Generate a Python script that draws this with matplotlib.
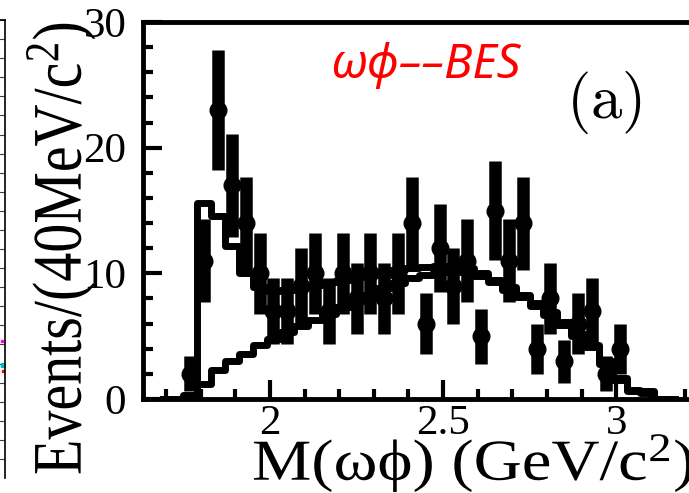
import numpy as np
import matplotlib
matplotlib.use('Agg')
import matplotlib.pyplot as plt
from matplotlib.textpath import TextPath
from matplotlib.patches import PathPatch
from matplotlib.font_manager import FontProperties
from matplotlib.transforms import Affine2D, IdentityTransform

plt.rcParams['mathtext.fontset'] = 'custom'
plt.rcParams['mathtext.rm'] = 'Liberation Serif'
plt.rcParams['mathtext.it'] = 'Liberation Serif:italic'

# data points, 40 MeV bins
mass = [1.77, 1.81, 1.85, 1.89, 1.93, 1.97, 2.01, 2.05, 2.09, 2.13, 2.17,
        2.21, 2.25, 2.29, 2.33, 2.37, 2.41, 2.45, 2.49, 2.53, 2.57, 2.61,
        2.65, 2.69, 2.73, 2.77, 2.81, 2.85, 2.89, 2.93, 2.97, 3.01]
events = [2, 11, 23, 17, 14, 10, 7, 7, 9, 10, 7,
          10, 8, 10, 8, 10, 14, 6, 12, 9, 11, 5,
          15, 11, 14, 4, 8, 3, 6, 7, 2, 4]
errors = [1.4, 3.3, 4.8, 4.1, 3.7, 3.2, 2.6, 2.6, 3.0, 3.2, 2.6,
          3.2, 2.8, 3.2, 2.8, 3.2, 3.7, 2.4, 3.5, 3.0, 3.3, 2.2,
          3.9, 3.3, 3.7, 2.0, 2.8, 1.7, 2.4, 2.6, 1.4, 2.0]

# fit curves (total and background)
curve_m = [1.69, 1.73, 1.77, 1.81, 1.85, 1.89, 1.93, 1.97, 2.01, 2.05, 2.09,
           2.13, 2.17, 2.21, 2.25, 2.29, 2.33, 2.37, 2.41, 2.45, 2.49, 2.53,
           2.57, 2.61, 2.65, 2.69, 2.73, 2.77, 2.81, 2.85, 2.89, 2.93, 2.97,
           3.01, 3.05, 3.09, 3.13, 3.17]
fit_total = [0, 0, 0.3, 15.6, 14.6, 12.2, 10.0, 8.9, 8.6, 8.7, 8.9,
             9.1, 9.3, 9.5, 9.7, 9.9, 10.1, 10.3, 10.4, 10.5, 10.6, 10.6,
             10.4, 10.0, 9.5, 8.9, 8.3, 7.6, 6.9, 6.1, 5.2, 4.3, 3.0,
             1.7, 0.7, 0.6, 0, 0]
fit_bkg = [None, None, 0, 1.2, 2.3, 3.0, 3.6, 4.3, 4.8, 5.3, 5.8,
           6.3, 6.8, 7.3, 7.8, 8.3, 8.8, 9.2, 9.6, 9.9, 10.1, 10.2,
           10.1, 9.8, 9.3, 8.7, 8.1, 7.4, 6.7, 5.9, 5.0, 4.1, 2.8,
           1.5, 0.6, 0.5, 0, None]

W, H = 689, 493
fig = plt.figure(figsize=(6.89, 4.93), dpi=100)


def wide_text(s, x, y, size, sx, rot=0):
    # text drawn as a path so it can be stretched sideways like the scan
    tp = TextPath((0, 0), s, size=size, prop=FontProperties(family='Liberation Serif'))
    tr = Affine2D().rotate_deg(rot).scale(sx, 1).translate(x, H - y)
    fig.add_artist(PathPatch(tr.transform_path(tp), fc='k', lw=0,
                             transform=IdentityTransform()))


# main panel, right edge runs off the picture
x0, x1 = 143, 720
y0, y1 = 399, 22
ax = fig.add_axes([x0 / W, 1 - y0 / H, (x1 - x0) / W, (y0 - y1) / H])
ax.set_xlim(1.633, 3.3)
ax.set_ylim(0, 30)

bkg = np.array([np.nan if v is None else v for v in fit_bkg], dtype=float)
ax.step(curve_m, bkg, where='mid', color='k', lw=5, zorder=2)
ax.step(curve_m, fit_total, where='mid', color='k', lw=5, zorder=2)
ax.errorbar(mass, events, yerr=errors, fmt='o', color='k', ms=12,
            elinewidth=9, capsize=0, zorder=3)

for s in ['left', 'bottom', 'top', 'right']:
    ax.spines[s].set_linewidth(3.5)
ax.set_xticks([2, 2.5, 3])
ax.set_xticklabels(['2', '2.5', '3'])
ax.set_xticks(np.arange(1.7, 3.3, 0.1), minor=True)
ax.set_yticks([0, 10, 20, 30])
ax.set_yticks(np.arange(0, 31, 2), minor=True)
ax.tick_params(which='both', direction='in', top=False, right=False, width=3)
ax.tick_params(which='major', length=14)
ax.tick_params(which='minor', length=7)
ax.tick_params(axis='y', pad=12)
ax.tick_params(axis='x', pad=4)
for lab in ax.get_xticklabels() + ax.get_yticklabels():
    lab.set_fontfamily('Liberation Serif')
    lab.set_fontsize(31)

wide_text(r'M($\mathrm{\omega\phi}$) (GeV/c$^2$)', 252, 480, 58, 1.15)
wide_text(r'Events/(40MeV/c$^2$)', 81, 475, 58, 1.2, rot=90)

fig.text(330 / W, 1 - 78 / H, 'ωϕ––BES', color='red', fontsize=34,
         style='italic', family=['Noto Sans', 'DejaVu Sans'],
         ha='left', va='baseline')
fig.text(604 / W, 1 - 102 / H, r'$\mathrm{(a)}$', fontsize=45,
         math_fontfamily='cm', ha='center', va='center')

# sliver of the neighbouring panel at the left edge
ax2 = fig.add_axes([0, 1 - 478 / H, 5 / W, (478 - 20) / H])
ax2.set_xlim(0, 1)
ax2.set_ylim(0, 24)
ax2.set_yticks(range(25))
ax2.set_xticks([])
ax2.grid(axis='y', color='0.25', lw=0.8)
ax2.tick_params(length=0, labelleft=False)
for s in ['left', 'bottom']:
    ax2.spines[s].set_visible(False)
ax2.spines['right'].set_linewidth(1.2)
ax2.spines['top'].set_linewidth(1.2)
ax2.plot([0.4], [7.2], 's', color='magenta', ms=2)
ax2.plot([0.6], [5.9], 's', color='c', ms=2.5)
ax2.plot([0.6], [5.6], 's', color='red', ms=2)

fig.savefig('out.png', dpi=100)
